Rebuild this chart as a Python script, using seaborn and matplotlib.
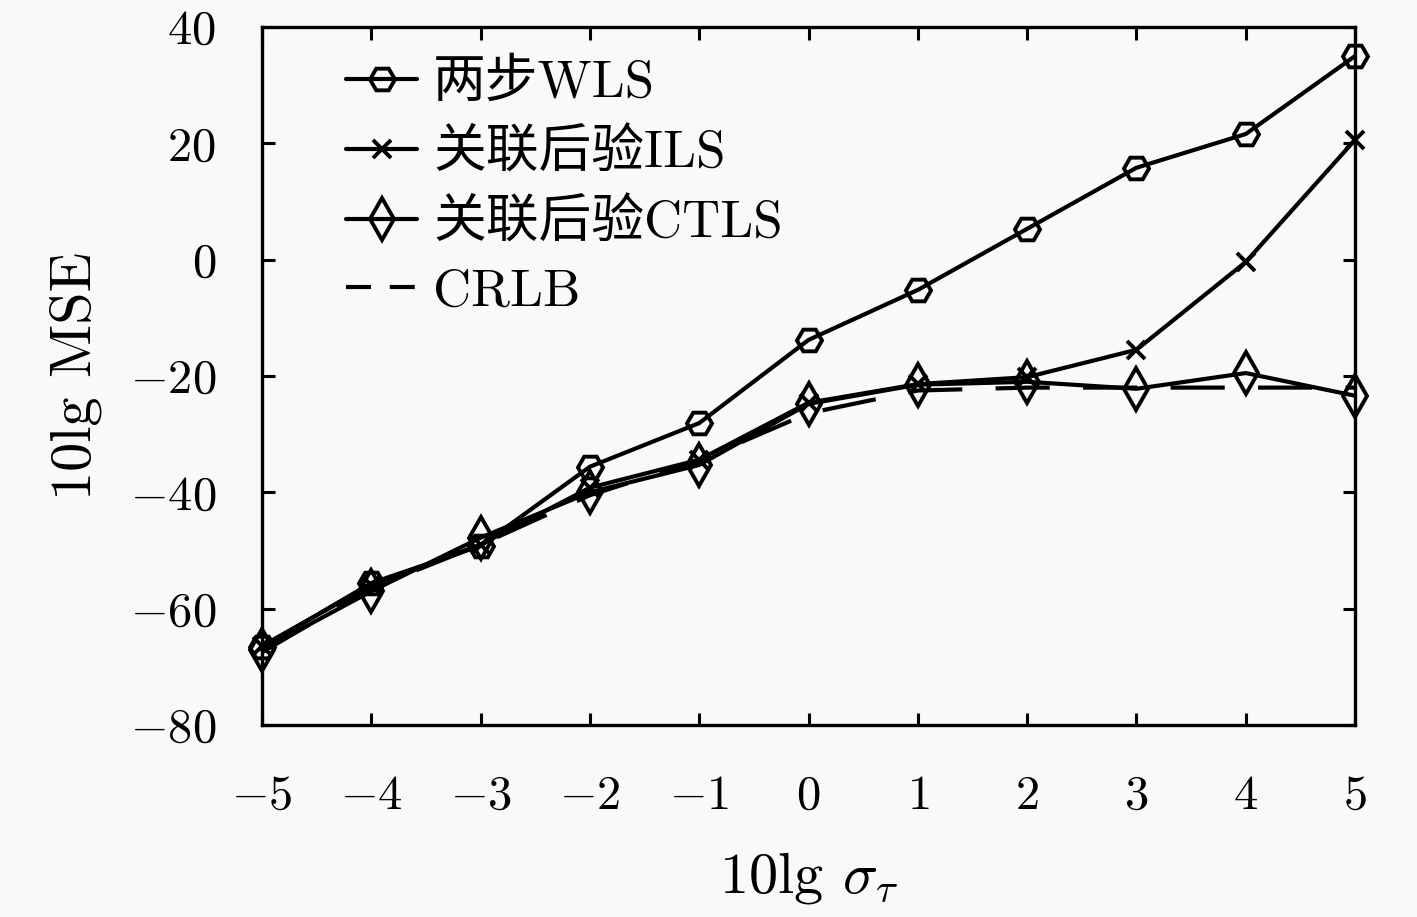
import numpy as np
import pandas as pd
import matplotlib
matplotlib.use("Agg")
import matplotlib.pyplot as plt
import seaborn as sns

x_vals = [-5, -4, -3, -2, -1, 0, 1, 2, 3, 4, 5]
wls = [-66.6, -55.6, -49.2, -35.6, -28.1, -13.8, -5.2, 5.3, 15.8, 21.6, 35.0]
ils = [-66.4, -55.9, -49.0, -39.2, -34.4, -24.6, -21.4, -20.2, -15.5, -0.4, 20.6]
ctls = [-67.1, -57.0, -47.8, -40.0, -35.3, -24.8, -21.5, -21.0, -22.2, -19.5, -23.4]
crlb = [-67.5, -56.5, -49.0, -40.5, -34.5, -26.4, -22.5, -22.0, -22.0, -22.0, -22.0]
labels = ["两步WLS", "关联后验ILS", "关联后验CTLS", "CRLB"]
x_ticks = [-5, -4, -3, -2, -1, 0, 1, 2, 3, 4, 5]
y_ticks = [-80, -60, -40, -20, 0, 20, 40]

sns.set_theme(style="ticks")
plt.rcParams["font.family"] = ["cmr10", "Noto Sans CJK SC"]
plt.rcParams["mathtext.fontset"] = "cm"
plt.rcParams["axes.formatter.use_mathtext"] = True
plt.rcParams["axes.unicode_minus"] = True

bg = "#f9f9f9"
fig = plt.figure(figsize=(14.17, 9.17), dpi=100, facecolor=bg)
ax = fig.add_axes([0.1849, 0.2094, 0.7714, 0.7612])
ax.set_facecolor(bg)

lw = 3.0
common = dict(ax=ax, color="black", linewidth=lw, clip_on=False)
sns.lineplot(x=x_vals, y=wls, marker="H", markersize=18, markerfacecolor="none",
             markeredgecolor="black", markeredgewidth=2.8, label=labels[0], **common)
sns.lineplot(x=x_vals, y=ils, marker="x", markersize=13,
             markeredgecolor="black", markeredgewidth=2.8, label=labels[1], **common)
sns.lineplot(x=x_vals, y=ctls, marker="d", markersize=21, markerfacecolor="none",
             markeredgecolor="black", markeredgewidth=2.8, label=labels[2], **common)
sns.lineplot(x=x_vals, y=crlb, label=labels[3], **common)
ax.lines[-1].set_dashes((13, 8))

ax.set_xlim(-5, 5)
ax.set_ylim(-80, 40)
ax.set_xticks(x_ticks)
ax.set_yticks(y_ticks)
ax.tick_params(direction="in", length=9, width=2.2, labelsize=35, top=True, right=True,
               color="black", labelcolor="black")
ax.tick_params(axis="x", pad=36)
ax.tick_params(axis="y", pad=33)
for s in ax.spines.values():
    s.set_linewidth(2.4)
    s.set_color("black")

ax.set_xlabel(r"10lg $\sigma_\tau$", fontsize=42, labelpad=22, color="black")
ax.set_ylabel("10lg MSE", fontsize=42, labelpad=20, color="black")

leg = ax.legend(loc="upper left", bbox_to_anchor=(0.048, 1.0), frameon=False,
                fontsize=38, handlelength=1.35, handletextpad=0.3, labelspacing=0.4,
                borderaxespad=0.2)
leg.get_lines()[3].set_dashes((6, 4.5))
for t in leg.get_texts():
    t.set_color("black")

fig.savefig("out.png", dpi=100, facecolor=bg)
